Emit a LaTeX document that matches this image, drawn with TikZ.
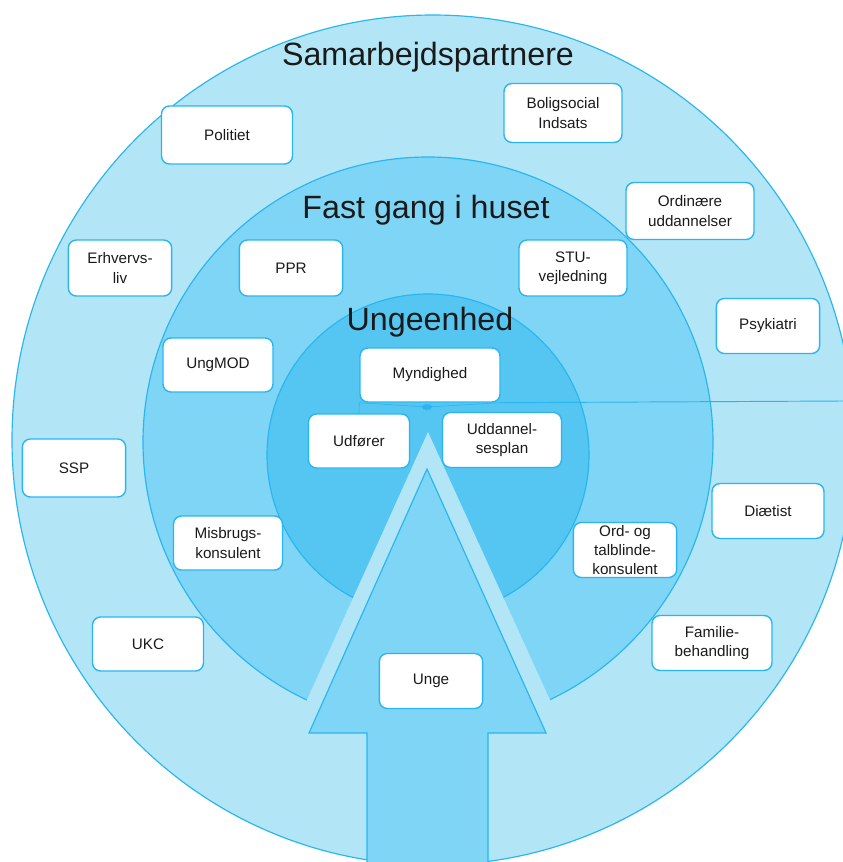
\documentclass[tikz,border=0pt]{standalone}
\usepackage{fontspec}
\setmainfont{Liberation Sans}
\usetikzlibrary{positioning}
\definecolor{ringlight}{HTML}{B2E6F7}
\definecolor{ringmid}{HTML}{7FD5F5}
\definecolor{ringdark}{HTML}{55C6F1}
\definecolor{edgeblue}{HTML}{29B6F0}
\definecolor{textdark}{HTML}{1A1A1A}

\begin{document}
\begin{tikzpicture}[x=0.03cm,y=-0.03cm,
    box/.style={rectangle,draw=edgeblue,line width=1.2pt,fill=white,rounded corners=0.24cm,align=center,minimum width=3.1cm,minimum height=1.65cm,inner sep=0pt,text=textdark,font=\fontsize{13}{16.5}\selectfont},
    title/.style={text=textdark,font=\fontsize{27.5}{30}\selectfont},
    ring/.style={draw=edgeblue,line width=1pt}]
    \useasboundingbox (0,0) rectangle (843,862);

    % rings
    \filldraw[ring,fill=ringlight] (433,440) ellipse [x radius=421,y radius=425];
    \filldraw[ring,fill=ringmid] (428,442) circle [radius=285];
    \filldraw[ring,fill=ringdark] (428,455) circle [radius=161];

    % arrow
    \fill[ringlight] (428,432) -- (292,733) -- (565,733) -- cycle;
    \filldraw[ring,fill=ringmid] (427,469) -- (546,733) -- (488,733) -- (488,880) -- (367,880) -- (367,733) -- (309,733) -- cycle;

    \node[title] at (428,57) (samarbejde) {Samarbejdspartnere};
    \node[title] at (426,210) (fastgang) {Fast gang i huset};
    \node[title] at (430,322) (ungeenhed) {Ungeenhed};

    % outer ring
    \node[box,minimum width=3.93cm,minimum height=1.74cm] at (227,135) (politiet) {Politiet};
    \node[box,minimum width=3.54cm,minimum height=1.77cm] at (563,113) (boligsocial) {Boligsocial\\Indsats};
    \node[box,minimum width=3.84cm,minimum height=1.71cm] at (690,211) (ordinaere) {Ordinære\\uddannelser};
    \node[box,minimum height=1.68cm] at (120,268) (erhverv) {Erhvervs-\\liv};
    \node[box] at (768,326) (psykiatri) {Psykiatri};
    \node[box,minimum height=1.74cm] at (74,468) (ssp) {SSP};
    \node[box,minimum width=3.36cm] at (768,511) (diaetist) {Diætist};
    \node[box,minimum width=3.33cm,minimum height=1.62cm] at (148,644) (ukc) {UKC};
    \node[box,minimum width=3.6cm] at (712,643) (familie) {Familie-\\behandling};

    % middle ring
    \node[box,minimum height=1.68cm] at (291,268) (ppr) {PPR};
    \node[box,minimum width=3.24cm,minimum height=1.68cm] at (573,268) (stu) {STU-\\vejledning};
    \node[box,minimum width=3.3cm,minimum height=1.62cm] at (218,365) (ungmod) {UngMOD};
    \node[box,minimum width=3.27cm,minimum height=1.62cm] at (228,543) (misbrug) {Misbrugs-\\konsulent};
    \node[box] at (625,550) (ordblinde) {Ord- og\\talblinde-\\konsulent};

    % inner ring
    \node[box,minimum width=4.2cm,minimum height=1.62cm] at (430,375) (myndighed) {Myndighed};
    \node[box,minimum width=3.03cm,minimum height=1.62cm] at (359,441) (udforer) {Udfører};
    \node[box,minimum width=3.57cm] at (502,440) (uddannelsesplan) {Uddannel-\\sesplan};
    \node[box] at (431,681) (unge) {Unge};

    \coordinate (hub) at (427,407);
    \coordinate (rightend) at (843,401);
    \draw[edgeblue,line width=0.5pt] (myndighed.south west) -- (hub) -- (myndighed.south east);
    \draw[edgeblue,line width=0.5pt] (myndighed.south west) -- (udforer.north);
    \fill[edgeblue] (hub) ellipse [x radius=5,y radius=3];
    \draw[edgeblue,line width=0.8pt] (myndighed.south east) -- (rightend);
\end{tikzpicture}
\end{document}
